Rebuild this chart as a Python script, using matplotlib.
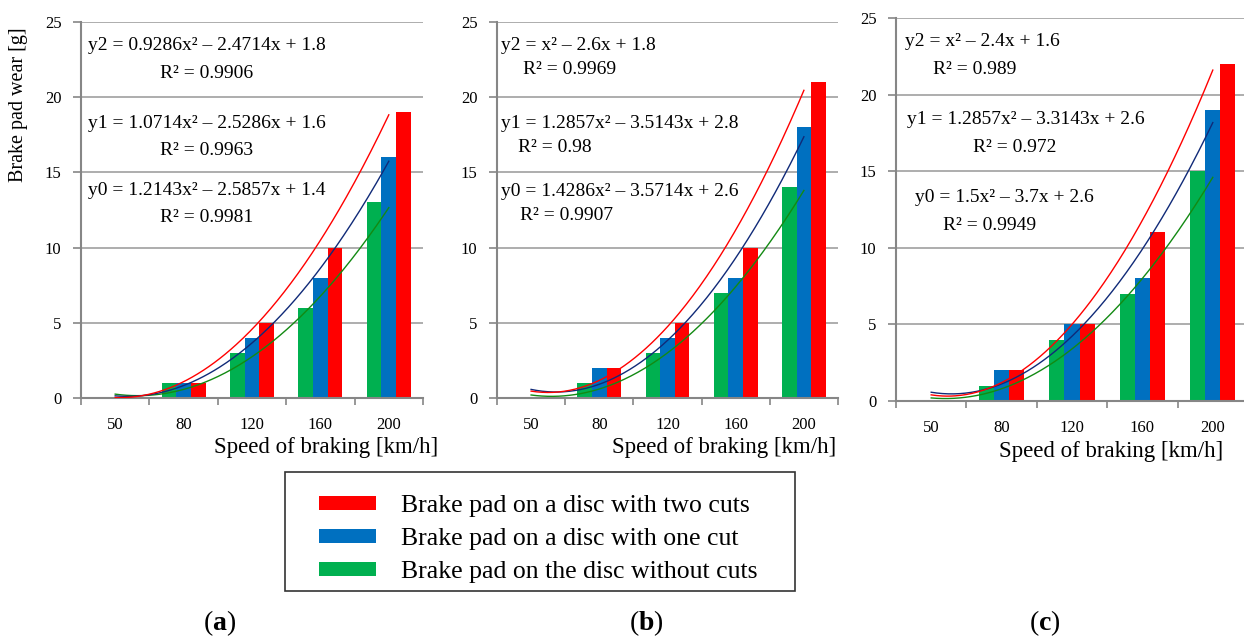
import numpy as np
import matplotlib
matplotlib.use('Agg')
import matplotlib.pyplot as plt
from matplotlib.patches import Rectangle

plt.rcParams['font.family'] = ['Liberation Serif', 'DejaVu Serif']
plt.rcParams['mathtext.fontset'] = 'custom'
plt.rcParams['mathtext.rm'] = 'Liberation Serif'
plt.rcParams['mathtext.bf'] = 'Liberation Serif:bold'

speeds = ['50', '80', '120', '160', '200']

# brake pad wear [g] per panel
no_cuts_a = [0, 1, 3, 6, 13]
one_cut_a = [0, 1, 4, 8, 16]
two_cuts_a = [0, 1, 5, 10, 19]

no_cuts_b = [0, 1, 3, 7, 14]
one_cut_b = [0, 2, 4, 8, 18]
two_cuts_b = [0, 2, 5, 10, 21]

no_cuts_c = [0, 1, 4, 7, 15]
one_cut_c = [0, 2, 5, 8, 19]
two_cuts_c = [0, 2, 5, 11, 22]

eq_a = ['y2 = 0.9286x\u00b2 \u2013 2.4714x + 1.8', 'R\u00b2 = 0.9906',
        'y1 = 1.0714x\u00b2 \u2013 2.5286x + 1.6', 'R\u00b2 = 0.9963',
        'y0 = 1.2143x\u00b2 \u2013 2.5857x + 1.4', 'R\u00b2 = 0.9981']
eq_b = ['y2 = x\u00b2 \u2013 2.6x + 1.8', 'R\u00b2 = 0.9969',
        'y1 = 1.2857x\u00b2 \u2013 3.5143x + 2.8', 'R\u00b2 = 0.98',
        'y0 = 1.4286x\u00b2 \u2013 3.5714x + 2.6', 'R\u00b2 = 0.9907']
eq_c = ['y2 = x\u00b2 \u2013 2.4x + 1.6', 'R\u00b2 = 0.989',
        'y1 = 1.2857x\u00b2 \u2013 3.3143x + 2.6', 'R\u00b2 = 0.972',
        'y0 = 1.5x\u00b2 \u2013 3.7x + 2.6', 'R\u00b2 = 0.9949']

labels = ['Brake pad on the disc without cuts',
          'Brake pad on a disc with one cut',
          'Brake pad on a disc with two cuts']
bar_colors = ['#00B050', '#0070C0', '#FF0000']
line_colors = ['#138A13', '#102A78', '#FF0000']

W, H = 1244, 639
fig = plt.figure(figsize=(W / 100, H / 100), dpi=100)


def px(x, y):
    return x / W, 1 - y / H


def panel(rect, series, eqs, eq_pos, xlabel_right):
    l, r, top, bot = rect
    ax = fig.add_axes([l / W, 1 - bot / H, (r - l) / W, (bot - top) / H])
    x = np.arange(1, len(speeds) + 1)
    w = 0.214
    bars = []
    for k, vals in enumerate(series):
        b = ax.bar(x + (k - 1) * w, vals, w, color=bar_colors[k], zorder=2)
        bars.append(b)
    # quadratic trend lines fitted to the bars
    xs = np.linspace(1, 5, 200)
    for k, vals in enumerate(series):
        coef = np.polyfit(x, vals, 2)
        ax.plot(xs, np.polyval(coef, xs), color=line_colors[k], lw=1.0, zorder=3)
    ax.set_xlim(0.5, 5.5)
    ax.set_ylim(0, 25)
    ax.set_yticks(range(0, 26, 5))
    ax.set_xticks(x)
    ax.set_xticklabels(speeds)
    ax.set_xticks(np.arange(0.5, 5.6, 1), minor=True)
    ax.tick_params(axis='x', which='major', length=0, pad=14, labelsize=12)
    ax.tick_params(axis='x', which='minor', length=5, color='#868686', width=1.2)
    ax.tick_params(axis='y', length=6, color='#868686', width=1.2, pad=8, labelsize=12)
    ax.grid(axis='y', color='#A0A0A0', lw=1.2, zorder=0)
    ax.set_axisbelow(True)
    for s in ['top', 'right']:
        ax.spines[s].set_visible(False)
    for s in ['left', 'bottom']:
        ax.spines[s].set_color('#868686')
        ax.spines[s].set_linewidth(1.5)
    fig.text(*px(xlabel_right, bot + 50), 'Speed of braking [km/h]',
             ha='right', va='center', fontsize=16.5)
    for txt, (ex, ey, ha) in zip(eqs, eq_pos):
        fig.text(*px(ex, ey), txt, ha=ha, va='center', fontsize=14)
    return ax, bars


ax_a, bars = panel((81, 423, 22, 398), [no_cuts_a, one_cut_a, two_cuts_a], eq_a,
                   [(88, 46, 'left'), (207, 73, 'center'), (88, 123, 'left'),
                    (207, 150, 'center'), (88, 190, 'left'), (207, 218, 'center')], 438)
fig.text(*px(19, 105), 'Brake pad wear [g]', rotation=90, ha='center', va='center',
         fontsize=14.5)

panel((497, 838, 22, 398), [no_cuts_b, one_cut_b, two_cuts_b], eq_b,
      [(501, 46, 'left'), (570, 70, 'center'), (501, 123, 'left'),
       (555, 147, 'center'), (501, 191, 'left'), (567, 216, 'center')], 836)

panel((896, 1248, 18, 401), [no_cuts_c, one_cut_c, two_cuts_c], eq_c,
      [(905, 42, 'left'), (975, 70, 'center'), (907, 120, 'left'),
       (1015, 147, 'center'), (915, 198, 'left'), (990, 226, 'center')], 1223)

# legend box drawn separately so its padding can match
fig.patches.append(Rectangle(px(285, 591), 510 / W, 119 / H, transform=fig.transFigure,
                             fill=False, edgecolor='#333333', lw=1.2))
leg = fig.legend([bars[2], bars[1], bars[0]], [labels[2], labels[1], labels[0]],
                 loc='upper left', bbox_to_anchor=px(319, 495),
                 fontsize=18.5, handlelength=2.2, handleheight=0.47,
                 handletextpad=1.0, labelspacing=0.43, borderpad=0,
                 borderaxespad=0, frameon=False)

for lab, xx in [('a', 220), ('b', 646), ('c', 1045)]:
    fig.text(*px(xx, 623), '(' + r'$\mathbf{' + lab + '}$' + ')',
             ha='center', va='center', fontsize=20)

fig.savefig('out.png', dpi=100)
